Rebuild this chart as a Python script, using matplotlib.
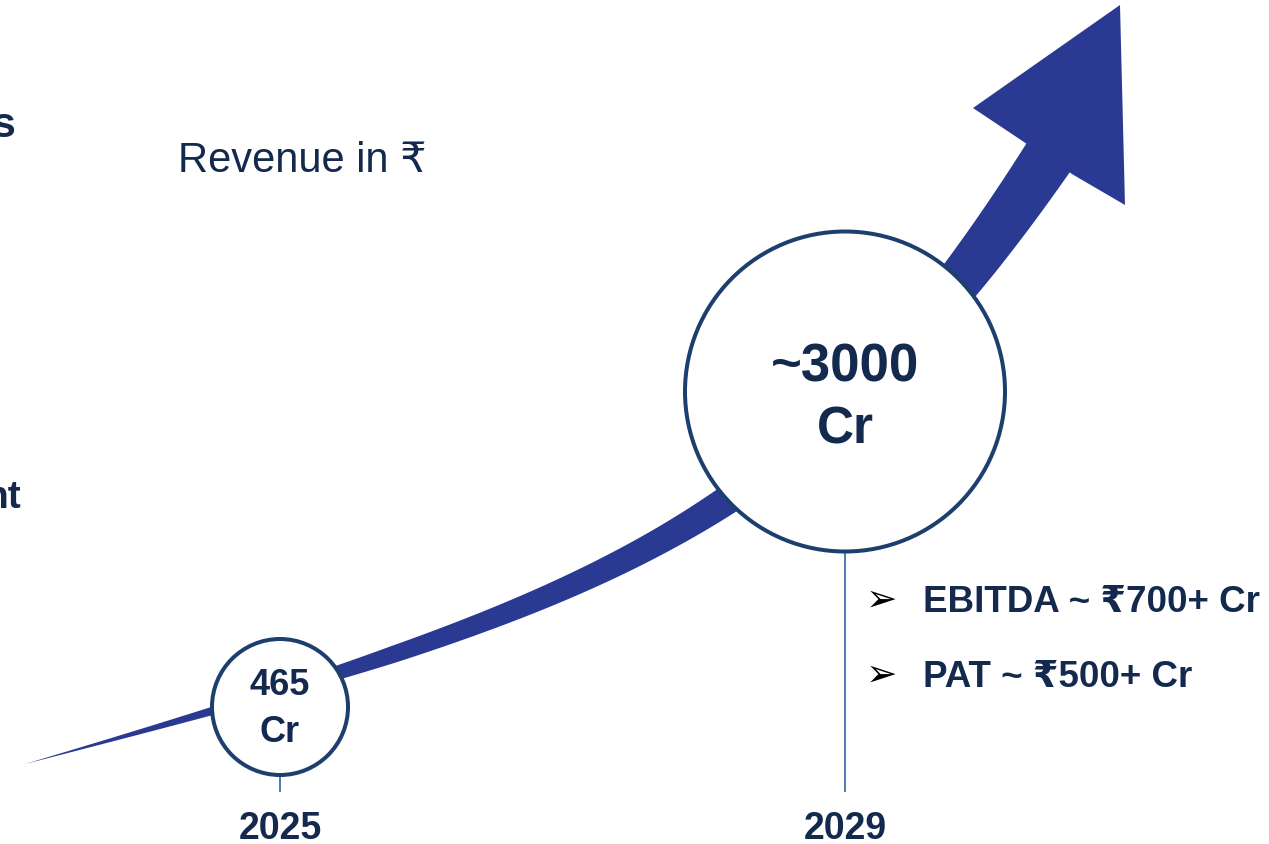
import numpy as np
import matplotlib
matplotlib.use("Agg")
import matplotlib.pyplot as plt
from matplotlib.patches import Circle, Polygon

# ---------------- data ----------------
years = [2025, 2029]
revenue_values = ["465", "~3000"]
revenue_units = ["Cr", "Cr"]
metric_lines = ["EBITDA ~ \u20b9700+ Cr", "PAT ~ \u20b9500+ Cr"]
title_text = "Revenue in \u20b9"
edge_fragments = ["s", "nt"]

# ---------------- style / layout ----------------
W, H = 1269, 844
NAVY_TXT = "#13294d"
CIRCLE_EDGE = "#1d3f6e"
ARROW_COL = "#2a3a92"
STEM_COL = "#2f5f9e"
FONT = ["Liberation Sans", "Arial", "DejaVu Sans", "Noto Sans"]
PT = 0.72  # points per pixel at dpi=100

year_x0, year_step = 280.0, 141.25
circle_cy = [707.0, 391.5]
circle_r = [68.0, 160.0]
value_base = [695.0, 382.0]
unit_base = [742.0, 444.0]
value_fs = [26, 38]
unit_fs = [26, 37]

fig = plt.figure(figsize=(W / 100, H / 100), dpi=100)
ax = fig.add_axes([0, 0, 1, 1])
ax.set_xlim(0, W)
ax.set_ylim(H, 0)
ax.axis("off")

# ---------------- growth arrow (decorative) ----------------
P0 = np.array([25.0, 764.0])
P1 = np.array([602.0, 604.0])
P2 = np.array([799.0, 532.0])
P3 = np.array([1048.0, 158.0])
t = np.linspace(0, 1, 400)[:, None]
C = ((1 - t) ** 3) * P0 + 3 * t * (1 - t) ** 2 * P1 + 3 * t ** 2 * (1 - t) * P2 + t ** 3 * P3
D = 3 * (1 - t) ** 2 * (P1 - P0) + 6 * t * (1 - t) * (P2 - P1) + 3 * t ** 2 * (P3 - P2)
D /= np.hypot(D[:, 0], D[:, 1])[:, None]
N = np.c_[D[:, 1], -D[:, 0]]
w_t = [0, 0.1, 0.25, 0.5, 0.75, 0.9, 1.0]
w_v = [0, 7, 17, 26, 36, 46, 52]
w = np.interp(t[:, 0], w_t, w_v) / 2.0
upper = C + N * w[:, None]
lower = C - N * w[:, None]
E, nE = C[-1], N[-1]
head = [E + 30 * nE, (973, 108), (1120, 5), (1125, 205), E - 30 * nE]
poly = np.vstack([upper, head, lower[::-1]])
ax.add_patch(Polygon(poly, closed=True, facecolor=ARROW_COL, edgecolor="none", zorder=1))

# ---------------- circles, stems, labels ----------------
for i, yr in enumerate(years):
    cx = year_x0 + (yr - years[0]) * year_step
    cy, r = circle_cy[i], circle_r[i]
    ax.plot([cx, cx], [cy + r, 792], color=STEM_COL, lw=1.6 * PT, zorder=2,
            solid_capstyle="butt")
    ax.add_patch(Circle((cx, cy), r, facecolor="white", edgecolor=CIRCLE_EDGE,
                        lw=4 * PT, zorder=3))
    ax.text(cx, value_base[i], revenue_values[i], ha="center", va="baseline",
            fontsize=value_fs[i], fontweight="bold", color=NAVY_TXT, family=FONT, zorder=4)
    ax.text(cx, unit_base[i], revenue_units[i], ha="center", va="baseline",
            fontsize=unit_fs[i], fontweight="bold", color=NAVY_TXT, family=FONT, zorder=4)
    ax.text(cx, 839, str(yr), ha="center", va="baseline", fontsize=27,
            fontweight="bold", color=NAVY_TXT, family=FONT, zorder=4)

# title
ax.text(178, 172, title_text, ha="left", va="baseline", fontsize=30,
        color=NAVY_TXT, family=FONT)

# bullet metrics
for line, base in zip(metric_lines, [612, 687]):
    ax.text(866, base - 1, "\u27a2", ha="left", va="baseline", fontsize=27,
            color="black", family=["DejaVu Sans"])
    ax.text(923, base, line, ha="left", va="baseline", fontsize=26.5,
            fontweight="bold", color=NAVY_TXT, family=FONT)

# clipped fragments at left edge
ax.text(15, 137, edge_fragments[0], ha="right", va="baseline", fontsize=31,
        fontweight="bold", color=NAVY_TXT, family=FONT)
ax.text(21, 508, edge_fragments[1], ha="right", va="baseline", fontsize=28,
        fontweight="bold", color=NAVY_TXT, family=FONT)

fig.savefig("out.png", dpi=100)
